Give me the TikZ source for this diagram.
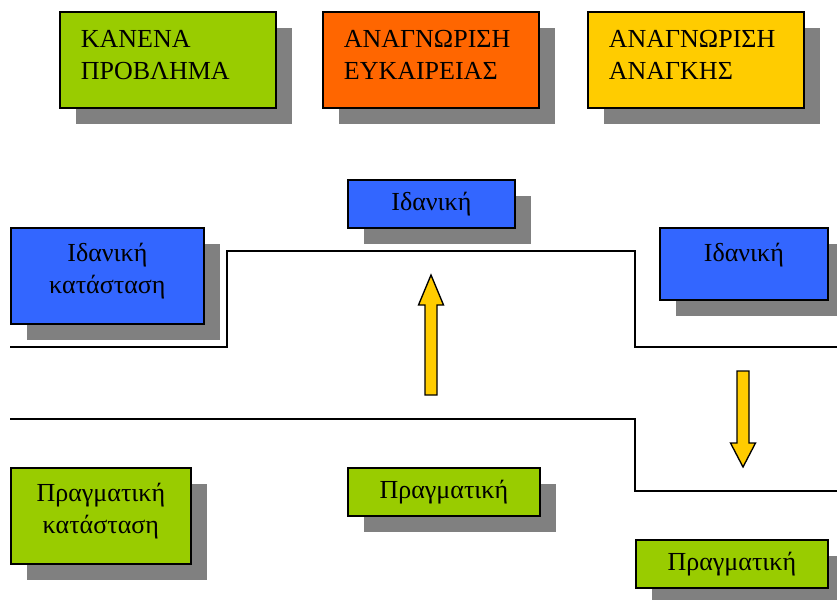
\documentclass[tikz,border=0pt]{standalone}
\usepackage{fontspec}
\setmainfont{Liberation Serif}
\usetikzlibrary{shadows}
\definecolor{boxgreen}{HTML}{99CC00}
\definecolor{boxorange}{HTML}{FF6600}
\definecolor{boxyellow}{HTML}{FFCC00}
\definecolor{boxblue}{HTML}{3366FF}
\definecolor{shadowgray}{HTML}{808080}
% extra depth below the last line, lifts the text inside a box
\newcommand{\lowpad}[1]{\rule[-#1]{0pt}{#1}}
\begin{document}
\begin{tikzpicture}[x=0.75pt, y=-0.75pt,
    box/.style={draw=black, line width=1.3pt, inner ysep=0pt, anchor=north west,
        font=\fontsize{19.5}{24}\selectfont,
        drop shadow={shadow xshift=12pt, shadow yshift=-12pt, fill=shadowgray, opacity=1}},
    topbox/.style={box, align=left, text width=130.5pt, inner xsep=15.75pt, minimum height=72pt},
    midbox/.style={box, align=center, inner xsep=0pt},
    level/.style={draw=black, line width=1.2pt},
    blockarrow/.style={draw=black, line width=1pt, fill=boxyellow, line join=miter}]
    \useasboundingbox (0,0) rectangle (837,599);
    \clip (0,0) rectangle (837,599);

    % the two levels
    \draw[level] (10,347) -- (227,347) -- (227,251) -- (635,251) -- (635,347) -- (837,347);
    \draw[level] (10,419) -- (635,419) -- (635,491) -- (837,491);

    % top row
    \node[topbox, fill=boxgreen] (none) at (59,11) {ΚΑΝΕΝΑ\\ΠΡΟΒΛΗΜΑ\lowpad{7.5pt}};
    \node[topbox, fill=boxorange] (chance) at (322,11) {ΑΝΑΓΝΩΡΙΣΗ\\ΕΥΚΑΙΡΕΙΑΣ\lowpad{7.5pt}};
    \node[topbox, fill=boxyellow] (need) at (587,11) {ΑΝΑΓΝΩΡΙΣΗ\\ΑΝΑΓΚΗΣ\lowpad{7.5pt}};

    % ideal states
    \node[midbox, fill=boxblue, minimum width=144.75pt, minimum height=72pt] (ideal1) at (10,227) {Ιδανική\\κατάσταση\lowpad{12pt}};
    \node[midbox, fill=boxblue, minimum width=125.25pt, minimum height=36pt] (ideal2) at (347,179) {Ιδανική};
    \node[midbox, fill=boxblue, minimum width=126pt, minimum height=54pt] (ideal3) at (659,227) {Ιδανική\lowpad{18pt}};

    % real states
    \node[midbox, fill=boxgreen, minimum width=135pt, minimum height=72pt] (real1) at (10,467) {Πραγματική\\κατάσταση\lowpad{12pt}};
    \node[midbox, fill=boxgreen, minimum width=144pt, minimum height=36pt] (real2) at (347,467) {Πραγματική};
    \node[midbox, fill=boxgreen, minimum width=144pt, minimum height=36pt] (real3) at (635,539) {Πραγματική};

    % block arrows
    \draw[blockarrow] (425,395) -- (425,305) -- (418.5,305) -- (431,275) -- (443.5,305) -- (437,305) -- (437,395) -- cycle;
    \draw[blockarrow] (737,371) -- (737,443) -- (730.5,443) -- (743,467) -- (755.5,443) -- (749,443) -- (749,371) -- cycle;
\end{tikzpicture}
\end{document}
